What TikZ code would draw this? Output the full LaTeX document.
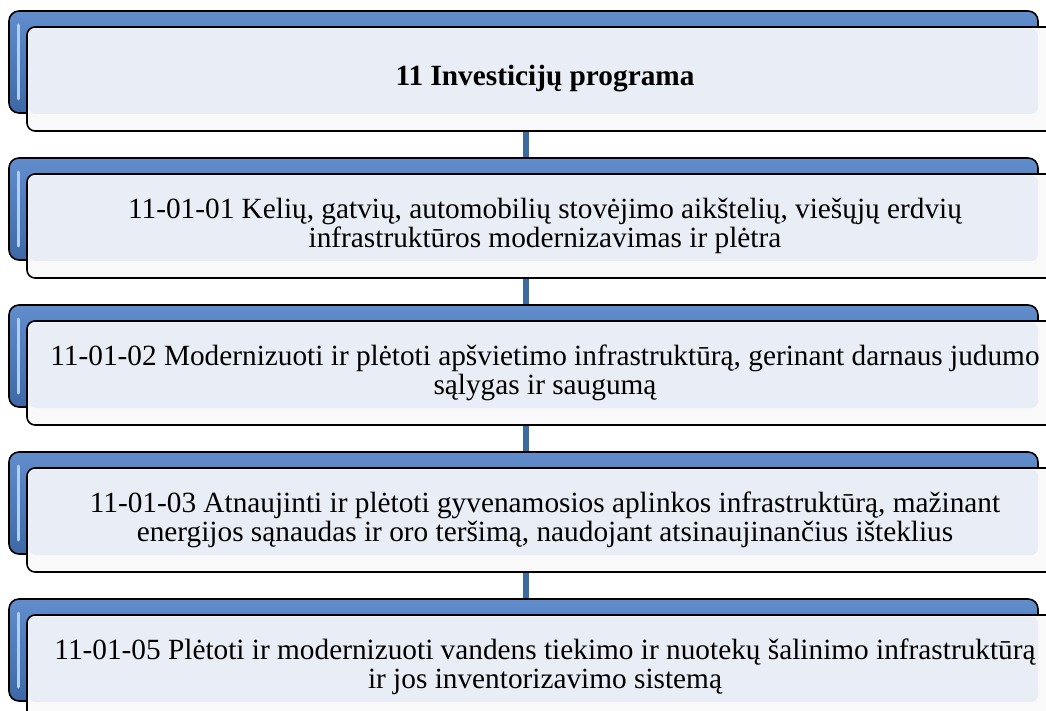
\documentclass[tikz,border=0pt]{standalone}
\usepackage{fontspec}
\setmainfont{Liberation Serif}
\usetikzlibrary{positioning,backgrounds}
\definecolor{BackTop}{RGB}{98,141,205}
\definecolor{BackBot}{RGB}{62,104,165}
\definecolor{Panel}{RGB}{233,237,245}
\definecolor{Band}{RGB}{249,249,249}
\definecolor{Link}{RGB}{61,106,159}
\definecolor{Gloss}{RGB}{172,208,246}

\begin{document}
\begin{tikzpicture}[x=1pt,y=-1pt,
    back/.style={draw=black, line width=1.6pt, rounded corners=10pt, top color=BackTop, bottom color=BackBot,
      minimum width=1029pt, minimum height=102pt, inner sep=0pt, outer sep=0pt},
    front/.style={draw=black, line width=1.6pt, rounded corners=8pt, fill=Band,
      minimum width=1036pt, minimum height=104pt, inner sep=0pt, outer sep=0pt,
      below right=16pt and 18pt of #1.north west},
    panel/.style={fill=Panel, rounded corners=7pt},
    gloss/.style={draw=Gloss, line width=3pt, line cap=round},
    rowtext/.style={align=center, inner sep=0pt, font=\fontsize{29.3pt}{29.5pt}\selectfont},
    link/.style={draw=Link, line width=6pt}]
  \useasboundingbox (0,0) rectangle (1046,711);
  \clip (0,0) rectangle (1046,711);

  % back shapes
  \node[back] (back1) at (523.5,62) {};
  \node[back, below=45pt of back1] (back2) {};
  \node[back, below=45pt of back2] (back3) {};
  \node[back, below=45pt of back3] (back4) {};
  \node[back, below=45pt of back4] (back5) {};
  \draw[gloss] ([xshift=9pt,yshift=-14pt]back1.north west) -- ([xshift=9pt,yshift=14pt]back1.south west);
  \draw[gloss] ([xshift=9pt,yshift=-14pt]back2.north west) -- ([xshift=9pt,yshift=14pt]back2.south west);
  \draw[gloss] ([xshift=9pt,yshift=-14pt]back3.north west) -- ([xshift=9pt,yshift=14pt]back3.south west);
  \draw[gloss] ([xshift=9pt,yshift=-14pt]back4.north west) -- ([xshift=9pt,yshift=14pt]back4.south west);
  \draw[gloss] ([xshift=9pt,yshift=-14pt]back5.north west) -- ([xshift=9pt,yshift=14pt]back5.south west);

  % front shapes
  \node[front=back1] (box1) {};
  \node[front=back2] (box2) {};
  \node[front=back3] (box3) {};
  \node[front=back4] (box4) {};
  \node[front=back5] (box5) {};
  \fill[panel] ([shift={(1.5pt,-1.5pt)}]box1.north west) rectangle ([xshift=-25pt,yshift=17pt]box1.south east);
  \fill[panel] ([shift={(1.5pt,-1.5pt)}]box2.north west) rectangle ([xshift=-25pt,yshift=17pt]box2.south east);
  \fill[panel] ([shift={(1.5pt,-1.5pt)}]box3.north west) rectangle ([xshift=-25pt,yshift=17pt]box3.south east);
  \fill[panel] ([shift={(1.5pt,-1.5pt)}]box4.north west) rectangle ([xshift=-25pt,yshift=17pt]box4.south east);
  \fill[panel] ([shift={(1.5pt,-1.5pt)}]box5.north west) rectangle ([xshift=-25pt,yshift=17pt]box5.south east);

  % texts
  \node[rowtext] (txt1) at (box1.center) {\textbf{11 Investicijų programa}};
  \node[rowtext] (txt2) at (box2.center) {11-01-01 Kelių, gatvių, automobilių stovėjimo aikštelių, viešųjų erdvių\\infrastruktūros modernizavimas ir plėtra};
  \node[rowtext] (txt3) at (box3.center) {11-01-02 Modernizuoti ir plėtoti apšvietimo infrastruktūrą, gerinant darnaus judumo\\sąlygas ir saugumą};
  \node[rowtext] (txt4) at (box4.center) {11-01-03 Atnaujinti ir plėtoti gyvenamosios aplinkos infrastruktūrą, mažinant\\energijos sąnaudas ir oro teršimą, naudojant atsinaujinančius išteklius};
  \node[rowtext] (txt5) at (box5.center) {11-01-05 Plėtoti ir modernizuoti vandens tiekimo ir nuotekų šalinimo infrastruktūrą\\ir jos inventorizavimo sistemą};

  % connectors
  \begin{pgfonlayer}{background}
    \draw[link] ([xshift=2.5pt]back1.south) -- ([xshift=2.5pt]back2.north);
    \draw[link] ([xshift=2.5pt]back2.south) -- ([xshift=2.5pt]back3.north);
    \draw[link] ([xshift=2.5pt]back3.south) -- ([xshift=2.5pt]back4.north);
    \draw[link] ([xshift=2.5pt]back4.south) -- ([xshift=2.5pt]back5.north);
  \end{pgfonlayer}
\end{tikzpicture}
\end{document}
